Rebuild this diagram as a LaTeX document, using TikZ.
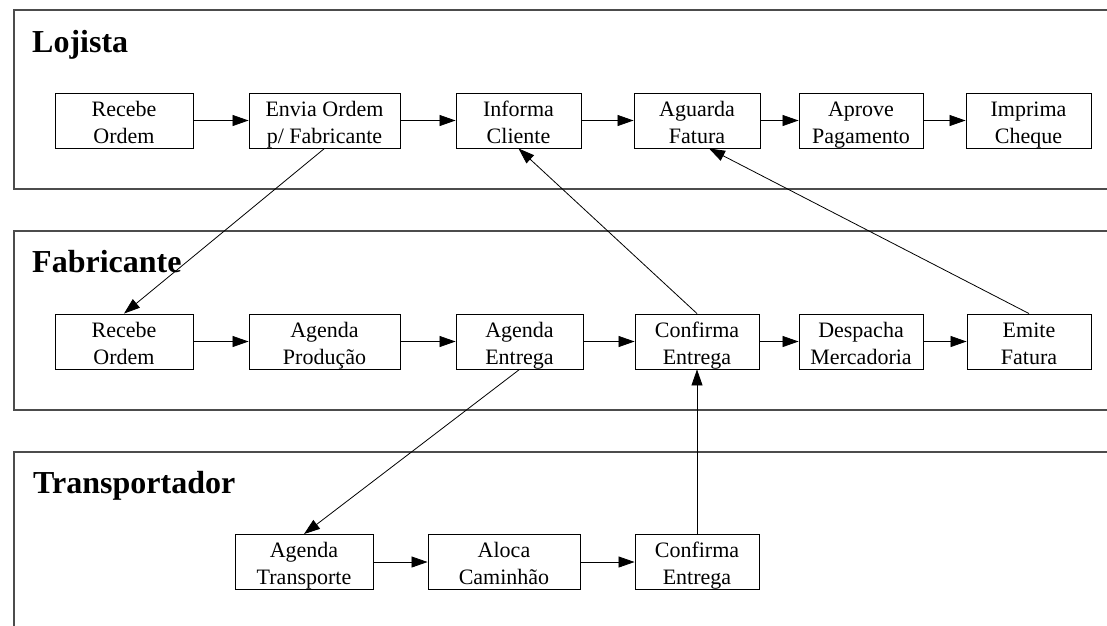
\documentclass[tikz,border=0pt]{standalone}
\usepackage{fontspec}
\setmainfont{Liberation Serif}
\usetikzlibrary{arrows.meta,calc}
\begin{document}
\begin{tikzpicture}[x=1pt,y=-1pt,
  lane/.style={draw=black!70,line width=1.3pt},
  title/.style={anchor=base west,font=\bfseries\fontsize{32}{36}\selectfont,inner sep=0pt},
  task/.style={draw,line width=0.9pt,minimum height=55pt,inner sep=0pt,align=center,
    text height=50pt,text depth=5pt,font=\fontsize{22}{27}\selectfont},
  flow/.style={line width=0.8pt,-{Triangle[length=16pt,width=11pt]}}]
\clip (0,0) rectangle (1107,625);

% swimlanes
\draw[lane] (14,10) rectangle (1120,189);
\draw[lane] (14,231) rectangle (1120,410);
\draw[lane] (14,452) rectangle (1120,640);
\node[title] (tl) at (32,52) {Lojista};
\node[title] (tf) at (32,272) {Fabricante};
\node[title] (tt) at (33,493) {Transportador};

% Lojista
\node[task,minimum width=138pt] (lrec) at (124,120.5) {Recebe\\Ordem};
\node[task,minimum width=151pt] (lenv) at (324.5,120.5) {Envia Ordem\\p/ Fabricante};
\node[task,minimum width=125pt] (linf) at (518.5,120.5) {Informa\\Cliente};
\node[task,minimum width=126pt] (lagu) at (697,120.5) {Aguarda\\Fatura};
\node[task,minimum width=124pt] (lapr) at (861,120.5) {Aprove\\Pagamento};
\node[task,minimum width=125pt] (limp) at (1028.5,120.5) {Imprima\\Cheque};

% Fabricante
\node[task,minimum width=138pt] (frec) at (124,341.5) {Recebe\\Ordem};
\node[task,minimum width=151pt] (fpro) at (324.5,341.5) {Agenda\\Produção};
\node[task,minimum width=127pt] (fent) at (519.5,341.5) {Agenda\\Entrega};
\node[task,minimum width=124pt] (fcon) at (697,341.5) {Confirma\\Entrega};
\node[task,minimum width=124pt] (fdes) at (861,341.5) {Despacha\\Mercadoria};
\node[task,minimum width=124pt] (femi) at (1029,341.5) {Emite\\Fatura};

% Transportador
\node[task,minimum width=138pt] (ttra) at (304,562) {Agenda\\Transporte};
\node[task,minimum width=152pt] (tcam) at (504,562) {Aloca\\Caminhão};
\node[task,minimum width=124pt] (tcon) at (697,562) {Confirma\\Entrega};

% sequence within each lane
\draw[flow] (lrec) -- (lenv);
\draw[flow] (lenv) -- (linf);
\draw[flow] (linf) -- (lagu);
\draw[flow] (lagu) -- (lapr);
\draw[flow] (lapr) -- (limp);
\draw[flow] (frec) -- (fpro);
\draw[flow] (fpro) -- (fent);
\draw[flow] (fent) -- (fcon);
\draw[flow] (fcon) -- (fdes);
\draw[flow] (fdes) -- (femi);
\draw[flow] (ttra) -- (tcam);
\draw[flow] (tcam) -- (tcon);

% messages between lanes
\draw[flow] (lenv.south) -- (frec.north);
\draw[flow] (fcon.north) -- (linf.south);
\draw[flow] (femi.north) -- ([xshift=12pt]lagu.south);
\draw[flow] (fent.south) -- (ttra.north);
\draw[flow] (tcon.north) -- (fcon.south);
\end{tikzpicture}
\end{document}
